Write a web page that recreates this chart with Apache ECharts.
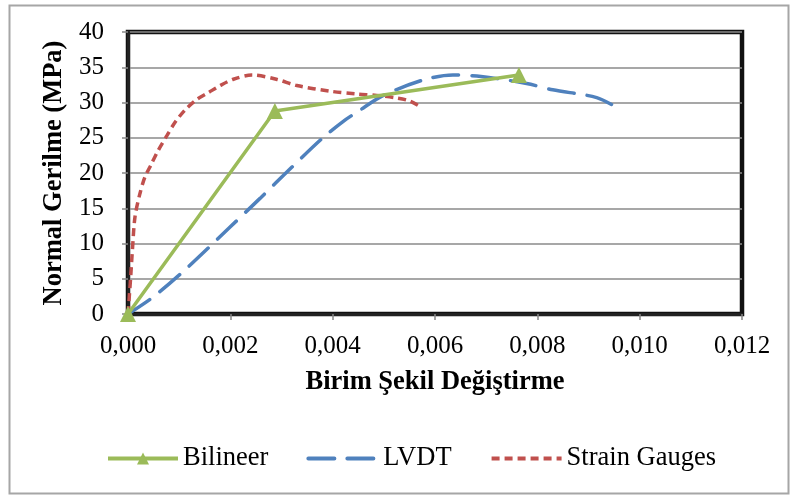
<!DOCTYPE html>
<html>
<head>
<meta charset="utf-8">
<script src="https://cdn.jsdelivr.net/npm/echarts@6/dist/echarts.min.js"></script>
<style>html,body{margin:0;padding:0;background:#fff;}#c{width:792px;height:495px;}</style>
</head>
<body>
<div id="c"></div>
<script>
// Data
const bilineerX = [0, 0.00287, 0.00764];
const bilineerY = [0, 28.8, 33.9];

const lvdtX = [0, 0.00049, 0.00115, 0.00199, 0.00258, 0.0032, 0.00381, 0.00424, 0.0045, 0.00499, 0.00577, 0.00635, 0.0069, 0.00779, 0.0083, 0.00916, 0.00955];
const lvdtY = [0, 2.4, 6.5, 12.3, 16.4, 20.8, 25.0, 27.5, 28.75, 31.0, 33.2, 33.9, 33.7, 32.7, 31.8, 30.7, 29.3];

const sgX = [0, 0.00005, 0.00009, 0.000137, 0.000234, 0.00033, 0.00046, 0.00059, 0.00076, 0.00092, 0.00111, 0.00134, 0.00157, 0.0018, 0.00206, 0.00242, 0.0029, 0.0033, 0.00395, 0.00447, 0.00486, 0.00525, 0.00551, 0.00574];
const sgY = [0, 5.0, 9.5, 13.8, 17.1, 19.4, 21.3, 23.2, 25.3, 27.2, 28.9, 30.4, 31.4, 32.4, 33.3, 33.9, 33.3, 32.4, 31.6, 31.2, 31.0, 30.65, 30.2, 29.3];

const xTicks = { min: 0, max: 0.012, interval: 0.002 };
const yTicks = { min: 0, max: 40, interval: 5 };

const seriesNames = ['Bilineer', 'LVDT', 'Strain Gauges'];
const xName = 'Birim Şekil Değiştirme';
const yName = 'Normal Gerilme (MPa)';

const zip = (xs, ys) => xs.map((x, i) => [x, ys[i]]);
const FONT = '"Liberation Serif", "Times New Roman", serif';

const chart = echarts.init(document.getElementById('c'), null, { renderer: 'canvas' });
chart.setOption({
  animation: false,
  backgroundColor: '#fff',
  graphic: [{
    type: 'rect', left: 7, top: 3, z: -1,
    shape: { width: 779, height: 488 },
    style: { fill: 'none', stroke: '#a6a6a6', lineWidth: 2 }
  }],
  grid: {
    left: 128, right: 50, top: 32, bottom: 181,
    show: true, borderColor: '#111', borderWidth: 4.5, backgroundColor: 'transparent'
  },
  legend: {
    left: 101, top: 440,
    itemWidth: 70, itemHeight: 15, itemGap: 38,
    textStyle: { fontFamily: FONT, fontSize: 26.5, color: '#000' },
    lineStyle: { width: 4 },
    data: [
      { name: seriesNames[0] },
      { name: seriesNames[1], itemStyle: { opacity: 0 } },
      { name: seriesNames[2], itemStyle: { opacity: 0 } }
    ]
  },
  xAxis: {
    type: 'value', min: xTicks.min, max: xTicks.max, interval: xTicks.interval,
    name: xName, nameLocation: 'middle', nameGap: 55,
    nameTextStyle: { fontFamily: FONT, fontSize: 26.5, fontWeight: 'bold', color: '#000' },
    axisLine: { show: true, onZero: false, lineStyle: { color: '#222', width: 3 } },
    axisTick: { show: true, length: 6, lineStyle: { color: '#888', width: 1.5 } },
    axisLabel: { margin: 20, fontFamily: FONT, fontSize: 25, color: '#000',
      formatter: v => v.toFixed(3).replace('.', ',') },
    splitLine: { show: false }
  },
  yAxis: {
    type: 'value', min: yTicks.min, max: yTicks.max, interval: yTicks.interval,
    name: yName, nameLocation: 'middle', nameGap: 56,
    nameTextStyle: { fontFamily: FONT, fontSize: 26.5, fontWeight: 'bold', color: '#000' },
    axisLine: { show: true, onZero: false, lineStyle: { color: '#222', width: 3 } },
    axisTick: { show: true, length: 6, lineStyle: { color: '#888', width: 1.5 } },
    axisLabel: { margin: 24, fontFamily: FONT, fontSize: 25, color: '#000' },
    splitLine: { show: true, lineStyle: { color: '#8a8a8a', width: 1.5 } }
  },
  series: [
    {
      name: seriesNames[0], type: 'line', data: zip(bilineerX, bilineerY),
      symbol: 'triangle', symbolSize: 16, showAllSymbol: true,
      itemStyle: { color: '#9BBB59' },
      lineStyle: { color: '#9BBB59', width: 3.5 }, z: 3
    },
    {
      name: seriesNames[1], type: 'line', data: zip(lvdtX, lvdtY),
      smooth: 0.3, showSymbol: false, symbol: 'none',
      itemStyle: { color: '#4F81BD' },
      lineStyle: { color: '#4F81BD', width: 3.5, type: [26, 13], cap: 'round' }, z: 2
    },
    {
      name: seriesNames[2], type: 'line', data: zip(sgX, sgY),
      smooth: 0.3, showSymbol: false, symbol: 'none',
      itemStyle: { color: '#C0504D' },
      lineStyle: { color: '#C0504D', width: 3.5, type: [8, 5] }, z: 2
    }
  ]
});
</script>
</body>
</html>
